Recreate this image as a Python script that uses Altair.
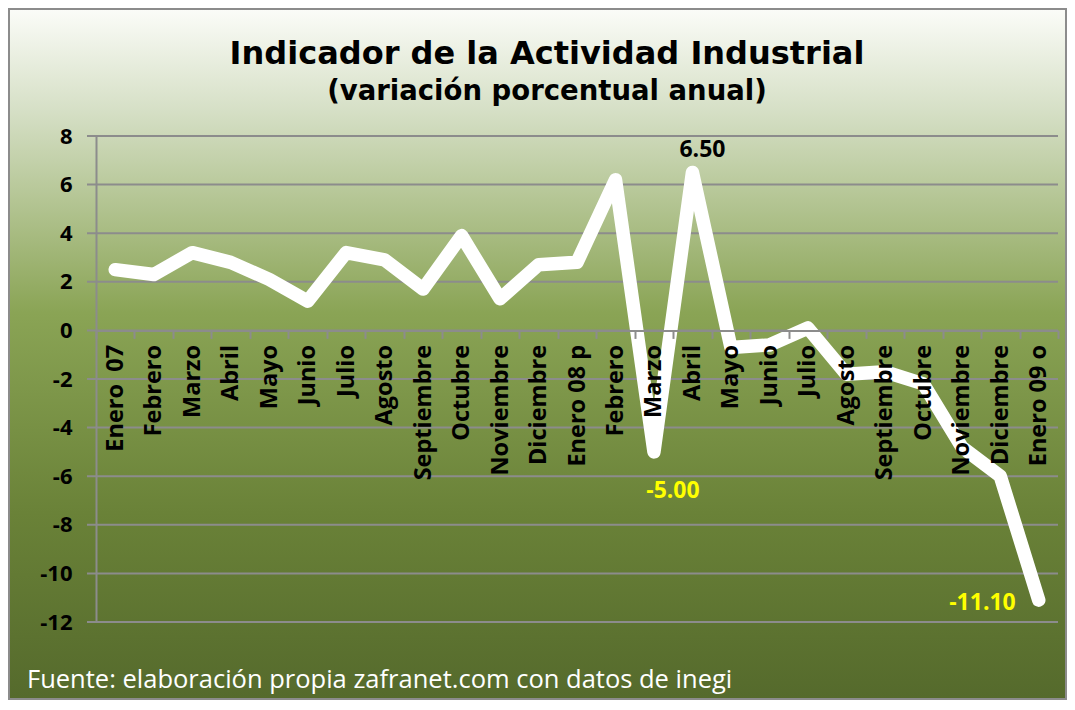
import altair as alt
import pandas as pd

# ---- data ----
months = ["Enero \u00a007", "Febrero", "Marzo", "Abril", "Mayo", "Junio", "Julio",
          "Agosto", "Septiembre", "Octubre", "Noviembre", "Diciembre",
          "Enero 08 p", "Febrero", "Marzo", "Abril", "Mayo", "Junio", "Julio",
          "Agosto", "Septiembre", "Octubre", "Noviembre", "Diciembre", "Enero 09 o"]
values = [2.5, 2.3, 3.2, 2.8, 2.1, 1.2, 3.2, 2.9, 1.7, 3.9, 1.3, 2.7,
          2.8, 6.2, -5.0, 6.5, -0.7, -0.6, 0.1, -1.8, -1.7, -2.2, -4.8, -6.0, -11.1]
y_ticks = [-12, -10, -8, -6, -4, -2, 0, 2, 4, 6, 8]
label_idx = [15, 14, 24]
label_text = ["6.50", "-5.00", "-11.10"]

title_text = "Indicador de la Actividad Industrial"
subtitle_text = "(variación porcentual anual)"
footer_text = "Fuente: elaboración propia zafranet.com con datos de inegi"

W, H = 962, 486
GRID = "#8c8c8c"

df = pd.DataFrame({"i": list(range(len(months))), "v": values})
ticks_df = pd.DataFrame({"t": y_ticks})
lab_df = pd.DataFrame({"i": label_idx, "v": [values[k] for k in label_idx], "txt": label_text})

label_expr = "[" + ",".join("'" + m + "'" for m in months) + "][datum.value]"

x_scale = alt.Scale(type="band", paddingInner=0, paddingOuter=0)
y_scale = alt.Scale(domain=[-12, 8], nice=False, zero=False)

x_axis = alt.Axis(
    title=None, orient="bottom", offset=-H * 12 / 20,
    domainColor=GRID, domainWidth=2, tickColor=GRID, tickWidth=2, tickSize=8,
    tickBand="extent", labelAngle=270, labelFont="Open Sans", labelFontWeight="bold",
    labelFontSize=23.5, labelColor="black", labelPadding=6, labelOverlap=False,
    labelExpr=label_expr, grid=False, zindex=1,
)
y_axis = alt.Axis(
    title=None, values=y_ticks, domainColor=GRID, domainWidth=2, ticks=False,
    labelFont="Open Sans", labelFontWeight="bold", labelFontSize=22,
    labelColor="black", labelPadding=24, grid=False, zindex=1,
    labelExpr="'' + datum.value",
)

one = alt.Data(values=[{}])

gradient = alt.LinearGradient(
    gradient="linear", x1=0, x2=0, y1=0, y2=1,
    stops=[
        alt.GradientStop(color="#fbfcf8", offset=0.0),
        alt.GradientStop(color="#d5dfc5", offset=0.15),
        alt.GradientStop(color="#8aa455", offset=0.44),
        alt.GradientStop(color="#6a8238", offset=0.73),
        alt.GradientStop(color="#556a2c", offset=1.0),
    ],
)

bg = alt.Chart(one).mark_rect(fill=gradient, stroke=GRID, strokeWidth=2).encode(
    x=alt.value(-87), x2=alt.value(W + 8), y=alt.value(-127), y2=alt.value(H + 77)
)

grid = alt.Chart(ticks_df).mark_rule(color=GRID, strokeWidth=2).encode(
    y=alt.Y("t:Q", scale=y_scale, axis=y_axis),
    x=alt.value(-9), x2=alt.value(W),
)

line = alt.Chart(df).mark_line(
    color="white", strokeWidth=13.5, strokeCap="round", strokeJoin="round"
).encode(
    x=alt.X("i:O", scale=x_scale, axis=x_axis),
    y=alt.Y("v:Q", scale=y_scale, axis=y_axis),
)

def lab(k, color, dx, dy, align):
    return alt.Chart(lab_df).transform_filter(
        alt.datum.txt == label_text[k]
    ).mark_text(
        font="Open Sans", fontWeight="bold", fontSize=23, color=color,
        dx=dx, dy=dy, align=align, baseline="alphabetic",
    ).encode(
        x=alt.X("i:O", scale=x_scale, axis=x_axis),
        y=alt.Y("v:Q", scale=y_scale, axis=y_axis),
        text="txt:N",
    )

lab1 = lab(0, "black", 10, -15, "center")
lab2 = lab(1, "#ffff00", 19, 46, "center")
lab3 = lab(2, "#ffff00", -23, 10, "right")

title = alt.Chart(one).mark_text(
    font="DejaVu Sans", fontWeight="bold", fontSize=32, color="black",
    align="center", baseline="alphabetic",
).encode(x=alt.value(451), y=alt.value(-72), text=alt.value(title_text))

subtitle = alt.Chart(one).mark_text(
    font="DejaVu Sans", fontWeight="bold", fontSize=27.5, color="black",
    align="center", baseline="alphabetic",
).encode(x=alt.value(451), y=alt.value(-36), text=alt.value(subtitle_text))

footer = alt.Chart(one).mark_text(
    font="Open Sans", fontSize=25.5, color="white",
    align="left", baseline="alphabetic",
).encode(x=alt.value(-69), y=alt.value(H + 66), text=alt.value(footer_text))

chart = alt.layer(bg, grid, line, lab1, lab2, lab3, title, subtitle, footer).properties(
    width=W, height=H,
    autosize=alt.AutoSizeParams(type="none"),
    padding={"left": 88, "top": 128, "right": 9, "bottom": 78},
).configure_view(strokeWidth=0)

chart.save("out.html", embed_options={"renderer": "svg", "actions": False})
